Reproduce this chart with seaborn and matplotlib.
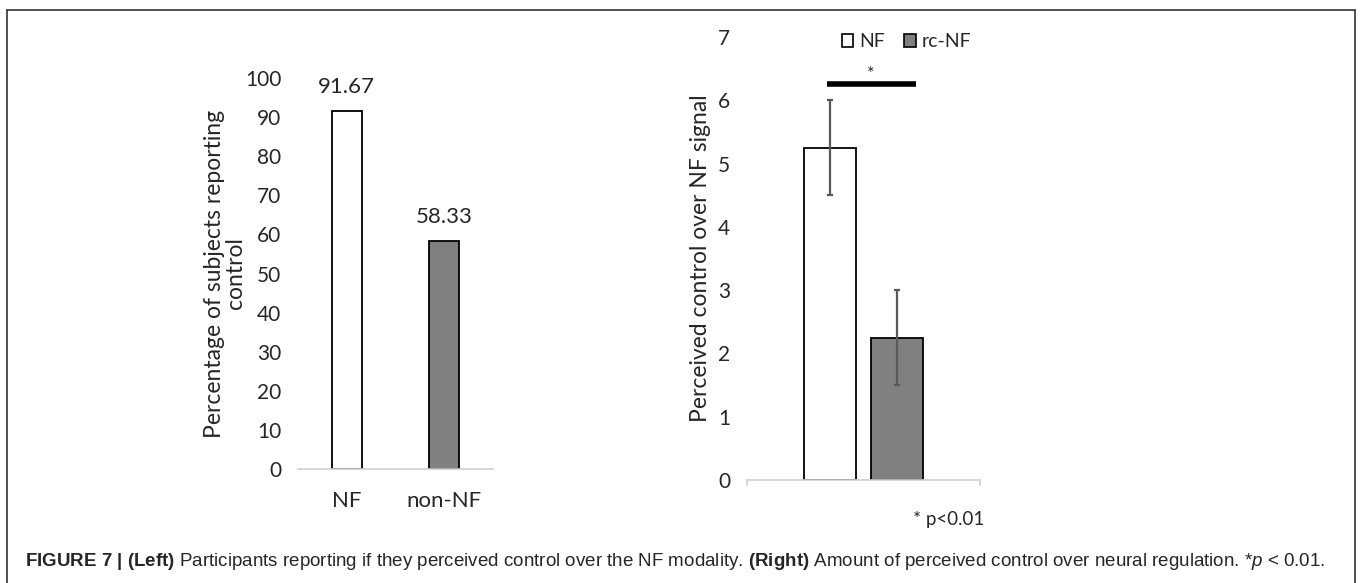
import numpy as np
import pandas as pd
import matplotlib
matplotlib.use("Agg")
import matplotlib.pyplot as plt
import seaborn as sns
from matplotlib.lines import Line2D
from matplotlib.patches import Patch

# ── Data ───────────────────────────────────────────────────
left_cats   = ["NF", "non-NF"]
left_vals   = [91.67, 58.33]
left_cols   = ["white", "#808080"]

right_groups = ["NF", "rc-NF"]
right_means  = [5.25, 2.25]
right_err    = [0.75, 0.75]
right_cols   = ["white", "#808080"]
sig_height   = 6.25

sns.set_theme(style="white")
plt.rcParams["font.family"] = ["Lato", "DejaVu Sans"]
plt.rcParams["mathtext.fontset"] = "custom"
plt.rcParams["mathtext.rm"] = "Liberation Sans"
plt.rcParams["mathtext.bf"] = "Liberation Sans:bold"
plt.rcParams["mathtext.it"] = "Liberation Sans:italic"

fig = plt.figure(figsize=(13.6, 5.83), dpi=100)

# ── Left panel ─────────────────────────────────────────────
axL = fig.add_axes([0.2191, 0.1955, 0.1434, 0.6707])
dfL = pd.DataFrame({"cat": left_cats, "val": left_vals})
sns.barplot(data=dfL, x="cat", y="val", hue="cat", palette=left_cols,
            width=0.31, edgecolor="black", linewidth=1.3, legend=False, ax=axL)
axL.set_ylim(0, 100)
axL.set_xlim(-0.5, 1.5)
axL.set_yticks(np.arange(0, 101, 10))
for bar, v in zip(axL.patches, left_vals):
    axL.text(bar.get_x() + bar.get_width() / 2, v + 3.5, f"{v:.2f}",
             ha="center", va="bottom", fontsize=16)
axL.set_xlabel("")
axL.set_ylabel("Percentage of subjects reporting\ncontrol", fontsize=16.5,
               labelpad=-1, linespacing=1.0)
axL.tick_params(axis="x", labelsize=16, length=0, pad=16)
axL.tick_params(axis="y", labelsize=15, length=0, pad=12)
for s in ["top", "right", "left"]:
    axL.spines[s].set_visible(False)
axL.spines["bottom"].set_color("#d0d0d0")
axL.spines["bottom"].set_linewidth(1.2)

# ── Right panel ────────────────────────────────────────────
axR = fig.add_axes([0.5493, 0.1767, 0.1713, 0.7599])
dfR = pd.DataFrame({"x": ["all"] * 2, "grp": right_groups, "val": right_means})
sns.barplot(data=dfR, x="x", y="val", hue="grp", palette=right_cols,
            width=0.575, gap=0.21, edgecolor="black", linewidth=1.3,
            legend=False, ax=axR)
axR.set_ylim(0, 7)
axR.set_xlim(-0.5, 0.5)
axR.set_yticks(np.arange(0, 8, 1))
bars = axR.patches[:2]
cx = [b.get_x() + b.get_width() / 2 for b in bars]
axR.errorbar(cx, right_means, yerr=right_err, fmt="none", ecolor="#595959",
             elinewidth=1.6, capsize=2, capthick=1.6)
sig_x = [cx[0] - 0.015, cx[1] + 0.08]
axR.plot(sig_x, [sig_height] * 2, color="black", lw=4, solid_capstyle="butt")
axR.text(np.mean(sig_x), sig_height + 0.04, "*", ha="center", va="bottom",
         fontsize=13)
axR.set_xticks([])
axR.set_xlabel("")
axR.set_ylabel("Perceived control over NF signal", fontsize=16.5, labelpad=5)
axR.tick_params(axis="y", labelsize=15, length=0, pad=12)
for s in ["top", "right", "left"]:
    axR.spines[s].set_visible(False)
axR.spines["bottom"].set_color("#d0d0d0")
axR.spines["bottom"].set_linewidth(1.2)
for xe in [-0.5, 0.5]:
    axR.plot([xe, xe], [0, -0.08], color="#d0d0d0", lw=1.2, clip_on=False)
handles = [Patch(facecolor=c, edgecolor="black", linewidth=1.2) for c in right_cols]
axR.legend(handles, right_groups, loc="center", bbox_to_anchor=(0.685, 0.989),
           ncol=2, frameon=False, fontsize=14, handlelength=0.6, handleheight=0.6,
           handletextpad=0.3, columnspacing=1.0, borderpad=0)
axR.text(1.02, -0.09, "* p<0.01", transform=axR.transAxes, ha="right",
         va="center", fontsize=13.5)

# ── Frame and caption ──────────────────────────────────────
for xs, ys in [([7, 7], [0, 573]), ([7, 1355], [573, 573]), ([1355, 1355], [573, 0])]:
    fig.add_artist(Line2D([x / 1360 for x in xs], [y / 583 for y in ys],
                          color="#333333", lw=1.2))

fig.text(25 / 1360, 1 - 561 / 583,
         r"$\bf{FIGURE\ 7\ |\ (Left)}$ Participants reporting if they perceived control over the NF modality. "
         r"$\bf{(Right)}$ Amount of perceived control over neural regulation. *$\it{p}$ < 0.01.",
         ha="left", va="center", fontsize=13.5,
         family=["Liberation Sans", "DejaVu Sans"])

fig.savefig("out.png", dpi=100)
